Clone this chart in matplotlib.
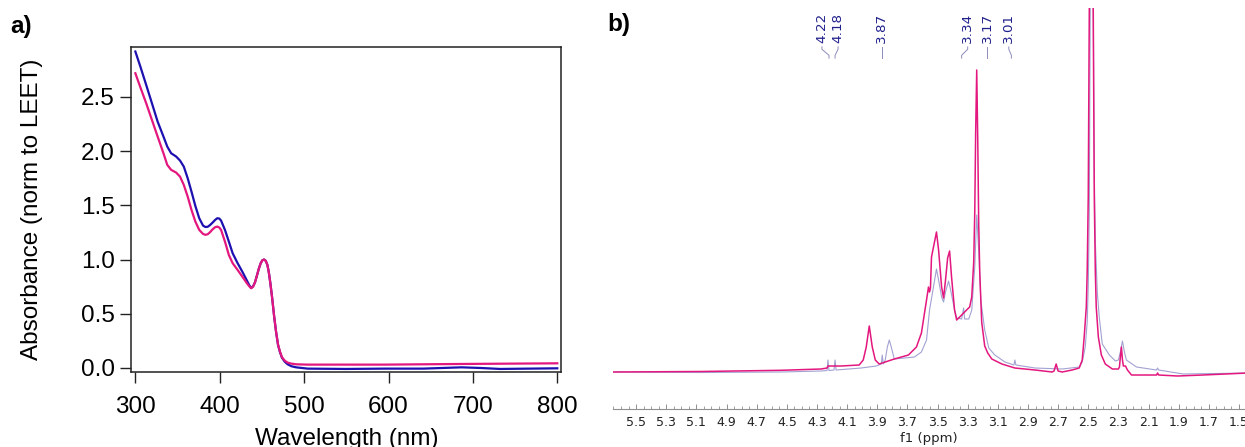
import matplotlib
matplotlib.use('Agg')
import matplotlib.pyplot as plt
import matplotlib.transforms as mtransforms
from matplotlib.ticker import MultipleLocator, FixedLocator, FormatStrFormatter

# ---- panel a: UV-vis, normalised to LEET band ----
wl_blue = [300.0, 305.9, 312.8, 319.6, 326.4, 333.3, 337.8, 342.4, 348.3, 352.9,
           357.4, 362.0, 366.5, 371.1, 375.7, 380.2, 383.0, 385.7, 388.5, 391.6,
           394.5, 397.1, 399.5, 401.6, 406.2, 410.8, 415.3, 421.2, 426.7, 432.2,
           434.8, 437.2, 439.5, 441.8, 444.0, 446.3, 448.5, 450.5, 452.5, 454.5,
           456.5, 458.2, 460.0, 462.2, 464.5, 466.8, 469.1, 471.4, 473.7, 477.0,
           480.5, 485.0, 490.5, 504.2, 549.8, 595.4, 640.9, 686.5, 709.3, 732.1,
           800.0]
abs_blue = [2.918, 2.780, 2.611, 2.442, 2.272, 2.134, 2.042, 1.980, 1.950, 1.913,
            1.857, 1.750, 1.627, 1.494, 1.381, 1.313, 1.300, 1.302, 1.318, 1.341,
            1.365, 1.381, 1.378, 1.359, 1.273, 1.165, 1.058, 0.966, 0.889, 0.806,
            0.766, 0.738, 0.752, 0.790, 0.850, 0.915, 0.965, 0.993, 1.000, 0.988,
            0.950, 0.880, 0.781, 0.640, 0.474, 0.330, 0.212, 0.145, 0.095, 0.058,
            0.034, 0.016, 0.006, -0.006, -0.009, -0.006, -0.006, 0.006, 0.000, -0.009,
            -0.003]

wl_pink = [300.0, 305.9, 312.8, 319.6, 326.4, 333.3, 337.8, 342.4, 348.3, 352.9,
           357.4, 362.0, 366.5, 371.1, 375.7, 380.2, 383.0, 385.7, 388.5, 391.6,
           394.5, 397.1, 399.5, 401.6, 406.2, 410.8, 415.3, 421.2, 426.7, 432.2,
           434.8, 437.2, 439.5, 441.8, 444.0, 446.3, 448.5, 450.5, 452.5, 454.5,
           456.5, 458.2, 460.0, 462.2, 464.5, 466.8, 469.1, 471.4, 473.7, 477.0,
           480.5, 485.0, 490.5, 504.2, 595.4, 686.5, 800.0]
abs_pink = [2.718, 2.589, 2.442, 2.288, 2.134, 1.980, 1.873, 1.827, 1.802, 1.765,
            1.688, 1.581, 1.458, 1.350, 1.273, 1.236, 1.228, 1.233, 1.252, 1.279,
            1.298, 1.304, 1.295, 1.273, 1.165, 1.042, 0.966, 0.904, 0.843, 0.781,
            0.755, 0.735, 0.750, 0.790, 0.850, 0.915, 0.965, 0.993, 1.000, 0.988,
            0.950, 0.880, 0.781, 0.640, 0.474, 0.330, 0.215, 0.150, 0.100, 0.068,
            0.049, 0.040, 0.034, 0.031, 0.031, 0.037, 0.043]

# ---- panel b: 1H NMR overlay (arbitrary intensity) ----
ppm_pink = [5.653, 5.073, 4.540, 4.273, 4.233, 4.227, 4.140, 4.020, 3.993, 3.973,
            3.953, 3.933, 3.913, 3.887, 3.787, 3.693, 3.640, 3.607, 3.573, 3.560,
            3.553, 3.547, 3.540, 3.507, 3.493, 3.473, 3.460, 3.447, 3.433, 3.420,
            3.407, 3.387, 3.373, 3.340, 3.307, 3.287, 3.273, 3.260, 3.253, 3.247,
            3.240, 3.233, 3.227, 3.220, 3.207, 3.187, 3.167, 3.140, 3.073, 2.987,
            2.853, 2.740, 2.727, 2.713, 2.700, 2.673, 2.607, 2.560, 2.540, 2.527,
            2.513, 2.507, 2.500, 2.493, 2.487, 2.480, 2.473, 2.467, 2.460, 2.453,
            2.447, 2.433, 2.413, 2.387, 2.340, 2.300, 2.293, 2.287, 2.280, 2.273,
            2.267, 2.253, 2.240, 2.213, 2.047, 2.040, 2.033, 1.907, 1.740, 1.440]
int_pink = [0, 0.5, 1.7, 3, 4, 6, 6, 7, 12, 25,
            46, 25, 12, 8, 13, 17, 25, 39, 72, 85,
            80, 84, 115, 140, 122, 85, 74, 92, 114, 121,
            95, 62, 52, 57, 62, 65, 75, 110, 160, 240,
            302, 230, 150, 100, 50, 26, 19, 13, 8, 4,
            2, 0, 1, 8, 1, 0, 2, 4, 12, 35,
            65, 100, 175, 364, 1000, 2200, 1000, 364, 175, 100,
            65, 35, 17, 8, 3, 3, 5, 15, 25, 12,
            6, 6, 2, -3, -3, -1, -3, -4, -3, -1]

ppm_lav = [5.653, 5.073, 4.540, 4.273, 4.233, 4.227, 4.220, 4.187, 4.180, 4.173,
           4.007, 3.907, 3.873, 3.867, 3.860, 3.847, 3.833, 3.820, 3.807, 3.787,
           3.653, 3.607, 3.573, 3.553, 3.527, 3.507, 3.493, 3.473, 3.460, 3.447,
           3.427, 3.413, 3.387, 3.373, 3.340, 3.327, 3.320, 3.293, 3.273, 3.253,
           3.240, 3.227, 3.213, 3.187, 3.160, 3.120, 3.053, 2.993, 2.987, 2.980,
           2.853, 2.673, 2.560, 2.540, 2.520, 2.507, 2.500, 2.493, 2.487, 2.480,
           2.477, 2.473, 2.467, 2.460, 2.453, 2.440, 2.427, 2.407, 2.360, 2.320,
           2.300, 2.287, 2.273, 2.260, 2.247, 2.180, 2.047, 2.040, 2.033, 1.870,
           1.440]
int_lav = [0, -0.5, 0, 1, 1.5, 12, 1.5, 2, 12, 2,
           4, 6, 8, 17, 8, 12, 25, 32, 25, 13,
           15, 20, 32, 62, 85, 103, 92, 75, 70, 80,
           91, 82, 62, 54, 53, 64, 53, 53, 62, 105,
           157, 122, 72, 42, 24, 17, 10, 7, 12, 7,
           4, 3, 5, 10, 25, 50, 85, 160, 364, 1000,
           2200, 1000, 364, 200, 130, 80, 55, 28, 17, 11,
           12, 20, 31, 20, 12, 5, 2, 4, 2, -2,
           -1]

peak_labels = ['4.22', '4.18', '3.87', '3.34', '3.17', '3.01']
peak_ppm = [4.22, 4.18, 3.87, 3.34, 3.17, 3.01]
label_ppm = [4.267, 4.160, 3.870, 3.300, 3.170, 3.027]

blue = '#1d10b0'
pink = '#e3177e'
lav = '#a2a2d2'
navy = '#20208c'

fig = plt.figure(figsize=(12.45, 4.47), dpi=100)

# ---------------- a) ----------------
ax = fig.add_axes([0.1056, 0.1678, 0.3454, 0.7271])
ax.plot(wl_blue, abs_blue, color=blue, lw=1.6, zorder=2)
ax.plot(wl_pink, abs_pink, color=pink, lw=1.6, zorder=3)
ax.set_xlim(295.4, 805)
ax.set_ylim(-0.037, 2.96)
ax.xaxis.set_major_locator(MultipleLocator(100))
ax.yaxis.set_major_locator(MultipleLocator(0.5))
ax.yaxis.set_major_formatter(FormatStrFormatter('%.1f'))
ax.tick_params(direction='out', length=8, width=1, labelsize=17.5, pad=4,
               labelfontfamily='Liberation Sans', color='#222222')
ax.tick_params(axis='x', pad=9)
for s in ax.spines.values():
    s.set_linewidth(1.1)
    s.set_color('#222222')
ax.set_xlabel('Wavelength (nm)', fontsize=17.5, family='Liberation Sans', va='top')
ax.xaxis.set_label_coords(0.5, -0.172)
ax.set_ylabel('Absorbance (norm to LEET)', fontsize=17.5, family='Liberation Sans',
              va='center')
ax.yaxis.set_label_coords(-0.232, 0.5)

fig.text(10 / 1245, 1 - 27 / 447, 'a)', fontsize=17.5, fontweight='bold',
         family='Liberation Sans', ha='left', va='center')
fig.text(607 / 1245, 1 - 24 / 447, 'b)', fontsize=17.5, fontweight='bold',
         family='Liberation Sans', ha='left', va='center')

# ---------------- b) ----------------
bx = fig.add_axes([0.4924, 0.0850, 0.5076, 0.8971])
bx.plot(ppm_lav, int_lav, color=lav, lw=0.8, zorder=2)
bx.plot(ppm_pink, int_pink, color=pink, lw=1.1, zorder=3)
bx.set_xlim(5.653, 1.46)
bx.set_ylim(-37, 364)
for side in ['left', 'right', 'top']:
    bx.spines[side].set_visible(False)
bx.spines['bottom'].set_color('#909090')
bx.spines['bottom'].set_linewidth(0.8)
bx.set_yticks([])
major = [round(5.5 - 0.2 * i, 1) for i in range(21)]
bx.xaxis.set_major_locator(FixedLocator(major))
bx.xaxis.set_major_formatter(FormatStrFormatter('%.1f'))
bx.xaxis.set_minor_locator(MultipleLocator(0.05))
bx.tick_params(axis='x', which='major', direction='in', length=3.5, width=0.7,
               color='#909090', labelsize=9, pad=5, labelcolor='#222222')
bx.tick_params(axis='x', which='minor', direction='in', length=2, width=0.6,
               color='#909090')
bx.set_xlabel('f1 (ppm)', fontsize=9.5, color='#222222', va='top')
bx.xaxis.set_label_coords(0.5, -0.057)

# peak labels with connectors
trans = mtransforms.blended_transform_factory(bx.transData, bx.transAxes)
for txt, p, lp in zip(peak_labels, peak_ppm, label_ppm):
    bx.text(lp, 0.912, txt, rotation=90, ha='center', va='bottom', fontsize=9.7,
            color=navy, transform=trans, clip_on=False)
    bx.plot([lp, lp, p, p], [0.903, 0.897, 0.882, 0.875], color='#8c8cbc', lw=0.7,
            transform=trans, clip_on=False)

fig.savefig('out.png', dpi=100)
